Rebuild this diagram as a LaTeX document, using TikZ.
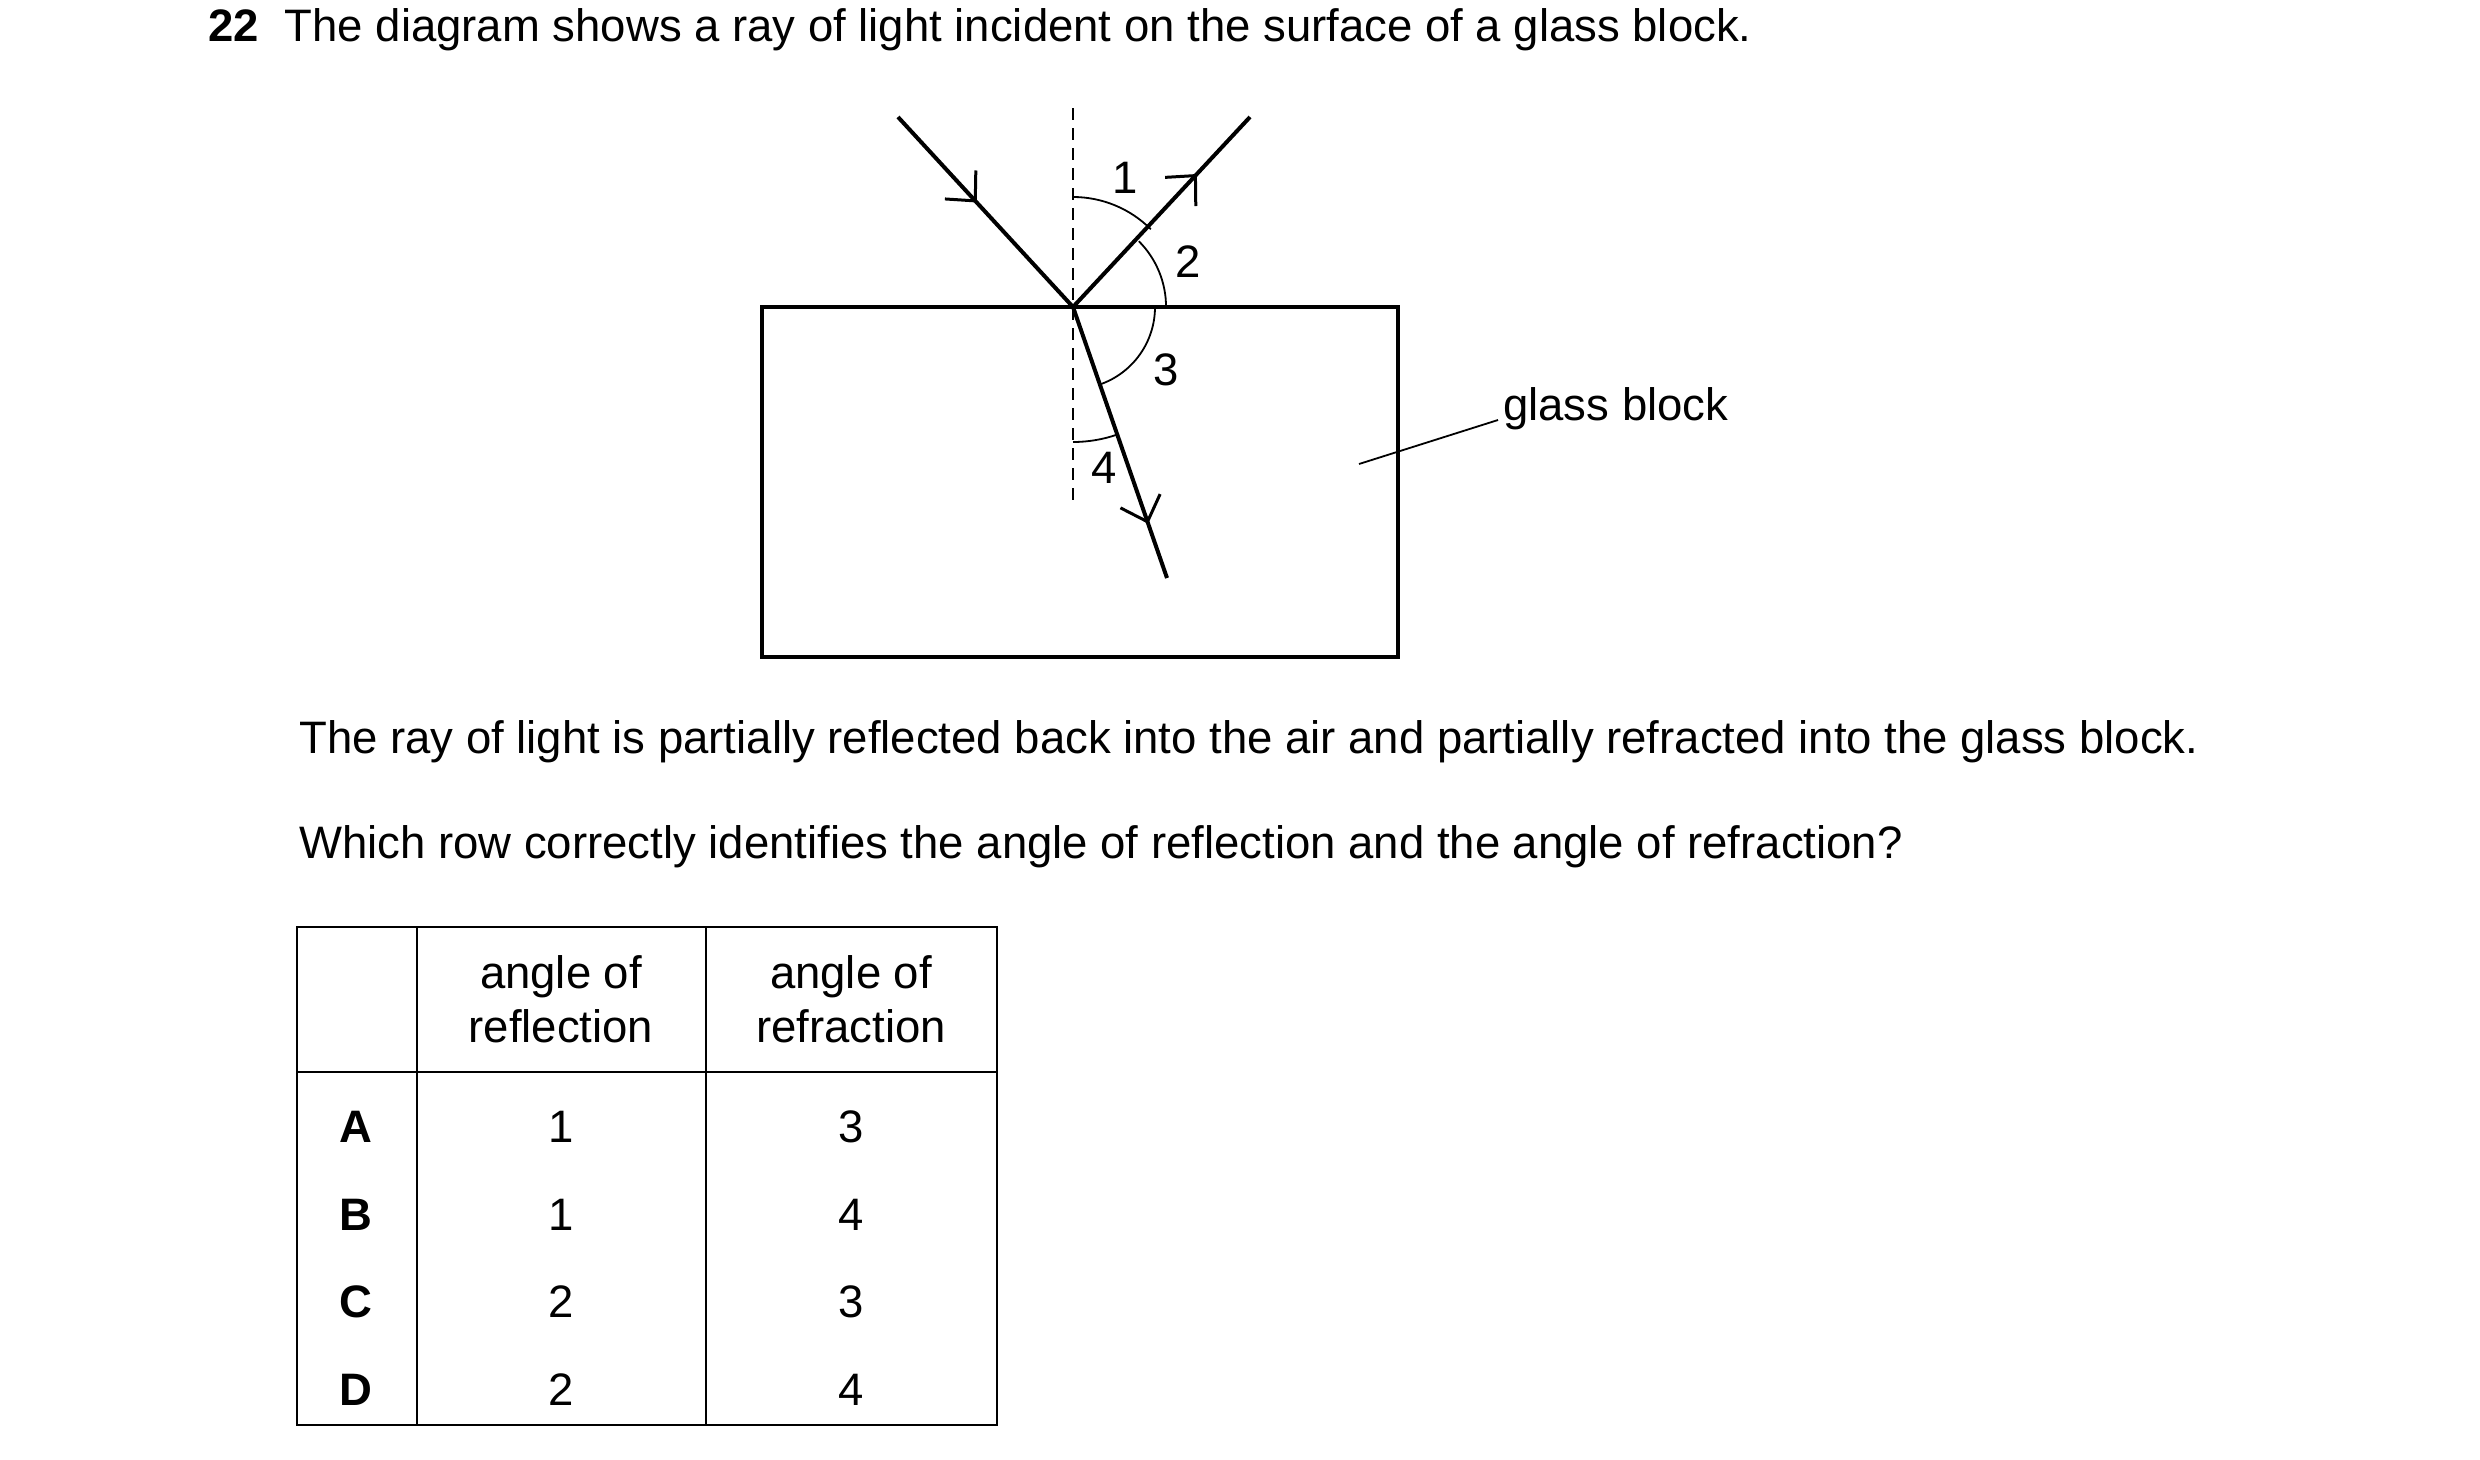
\documentclass[tikz,border=0pt]{standalone}
\usepackage{fontspec}
\setmainfont{Liberation Sans}
\usetikzlibrary{arrows.meta,decorations.markings}
\begin{document}
\begin{tikzpicture}[x=1pt,y=-1pt,
  ray/.style={line width=4pt},
  thin/.style={line width=1.8pt},
  txt/.style={font=\fontsize{45.5}{54}\selectfont,inner sep=0pt},
  mark/.style={postaction={decorate},decoration={markings,mark=at position #1 with {\arrow[line width=3pt]{Straight Barb[length=22pt,width=42pt]}}}}]
\useasboundingbox (0,0) rectangle (2480,1459);
\coordinate (O) at (1073,307);
\coordinate (I) at (898,117);
\coordinate (R) at (1250,117);
\coordinate (T) at (1167,578);
\coordinate (N1) at (1073,108);
\coordinate (N2) at (1073,503);
\node[txt,anchor=west] (q) at (208,30) {\textbf{22}\hspace{26pt}The diagram shows a ray of light incident on the surface of a glass block.};
\draw[ray] (762,307) rectangle (1398,657);
\draw[thin,dash pattern=on 12pt off 8pt] (N1) -- (N2);
\draw[ray,mark=0.45] (I) -- (O);
\draw[ray,mark=0.7] (O) -- (R);
\draw[ray,mark=0.8] (O) -- (T);
\draw[thin] (1073,197) arc[start angle=-90,end angle=-45,radius=110];
\draw[thin] (1073+65.8,307-65.8) arc[start angle=-45,end angle=0,radius=93];
\draw[thin] (1155,307) arc[start angle=0,end angle=70.9,radius=82];
\draw[thin] (1073,442) arc[start angle=90,end angle=70.9,radius=135];
\node[txt] (l1) at (1125,178) {1};
\node[txt] (l2) at (1188,262) {2};
\node[txt] (l3) at (1166,370) {3};
\node[txt] (l4) at (1104,468) {4};
\coordinate (gb) at (1359,464);
\draw[line width=1.8pt] (gb) -- (1498,420);
\node[txt,anchor=west] (g) at (1503,409) {glass block};
\node[txt,anchor=west] (p1) at (299,742) {The ray of light is partially reflected back into the air and partially refracted into the glass block.};
\node[txt,anchor=west] (p2) at (299,847) {Which row correctly identifies the angle of reflection and the angle of refraction?};
\draw[line width=2.5pt] (297,927) rectangle (997,1425);
\draw[line width=2.5pt] (297,1072) -- (997,1072);
\draw[line width=2.5pt] (417,927) -- (417,1425);
\draw[line width=2.5pt] (706,927) -- (706,1425);
\node[txt,align=center] (h1) at (561,999) {angle of\\reflection};
\node[txt,align=center] (h2) at (851,999) {angle of\\refraction};
\foreach \l/\a/\b/\y in {A/1/3/1127,B/1/4/1215,C/2/3/1302,D/2/4/1390}{
  \node[txt] at (356,\y) {\textbf{\l}};
  \node[txt] at (561,\y) {\a};
  \node[txt] at (851,\y) {\b};
}
\end{tikzpicture}
\end{document}
